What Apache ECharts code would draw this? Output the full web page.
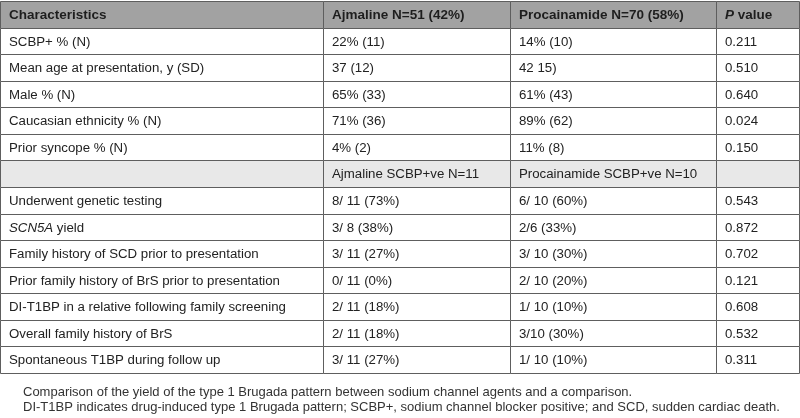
<!DOCTYPE html>
<html>
<head>
<meta charset="utf-8">
<script src="https://cdn.jsdelivr.net/npm/echarts@6/dist/echarts.min.js"></script>
<style>
html,body{margin:0;padding:0;background:#fff;}
#chart{width:800px;height:418px;}
</style>
</head>
<body>
<div id="chart"></div>
<script>
// ---- data ----
const headers = ['Characteristics', 'Ajmaline N=51 (42%)', 'Procainamide N=70 (58%)', 'P value'];
const characteristics = [
  'SCBP+ % (N)',
  'Mean age at presentation, y (SD)',
  'Male % (N)',
  'Caucasian ethnicity % (N)',
  'Prior syncope % (N)',
  '',
  'Underwent genetic testing',
  'SCN5A yield',
  'Family history of SCD prior to presentation',
  'Prior family history of BrS prior to presentation',
  'DI-T1BP in a relative following family screening',
  'Overall family history of BrS',
  'Spontaneous T1BP during follow up'
];
const ajmaline = [
  '22% (11)', '37 (12)', '65% (33)', '71% (36)', '4% (2)',
  'Ajmaline SCBP+ve N=11',
  '8/ 11 (73%)', '3/ 8 (38%)', '3/ 11 (27%)', '0/ 11 (0%)', '2/ 11 (18%)', '2/ 11 (18%)', '3/ 11 (27%)'
];
const procainamide = [
  '14% (10)', '42 15)', '61% (43)', '89% (62)', '11% (8)',
  'Procainamide SCBP+ve N=10',
  '6/ 10 (60%)', '2/6 (33%)', '3/ 10 (30%)', '2/ 10 (20%)', '1/ 10 (10%)', '3/10 (30%)', '1/ 10 (10%)'
];
const pValues = [
  '0.211', '0.510', '0.640', '0.024', '0.150',
  '',
  '0.543', '0.872', '0.702', '0.121', '0.608', '0.532', '0.311'
];
const subheaderRows = [5];
const italicTerms = ['SCN5A'];
const captionLines = [
  'Comparison of the yield of the type 1 Brugada pattern between sodium channel agents and a comparison.',
  'DI-T1BP indicates drug-induced type 1 Brugada pattern; SCBP+, sodium channel blocker positive; and SCD, sudden cardiac death.'
];

// ---- layout / style ----
const colWidths = [323, 186, 206, 83];
const edges = [0];
colWidths.forEach(w => edges.push(edges[edges.length - 1] + w));
const FONT = '"Liberation Sans", Arial, Helvetica, sans-serif';
const FS_HEAD = 13.5;
const FS_BODY = 13.25;

const columns = [characteristics, ajmaline, procainamide, pValues];
const cells = [];
headers.forEach((h, c) => cells.push({ col: c, row: 0, text: h, kind: 'header' }));
characteristics.forEach((_, i) => {
  columns.forEach((arr, c) => {
    cells.push({ col: c, row: i + 1, text: arr[i], kind: subheaderRows.includes(i) ? 'sub' : 'body' });
  });
});
const rowCats = ['h'].concat(characteristics.map((_, i) => 'r' + i));

function richText(cell) {
  let t = cell.text;
  if (cell.kind === 'header' && /^P value$/.test(t)) return '{hi|P}{h| value}';
  const style = cell.kind === 'header' ? 'h' : 'n';
  for (const term of italicTerms) {
    const idx = t.indexOf(term);
    if (idx >= 0) {
      const parts = [];
      if (idx > 0) parts.push('{' + style + '|' + t.slice(0, idx) + '}');
      parts.push('{' + style + 'i|' + term + '}');
      const rest = t.slice(idx + term.length);
      if (rest) parts.push('{' + style + '|' + rest + '}');
      return parts.join('');
    }
  }
  return t ? '{' + style + '|' + t + '}' : '';
}

const rich = {
  h: { fontFamily: FONT, fontSize: FS_HEAD, fontWeight: 'bold', fill: '#1e1e1e' },
  hi: { fontFamily: FONT, fontSize: FS_HEAD, fontWeight: 'bold', fontStyle: 'italic', fill: '#1e1e1e' },
  n: { fontFamily: FONT, fontSize: FS_BODY, fill: '#222' },
  ni: { fontFamily: FONT, fontSize: FS_BODY, fontStyle: 'italic', fill: '#222' }
};

const chart = echarts.init(document.getElementById('chart'), null, { renderer: 'canvas' });
chart.setOption({
  backgroundColor: '#ffffff',
  animation: false,
  title: {
    text: captionLines.join('\n'),
    left: 23,
    top: 384.5,
    padding: 0,
    textStyle: { fontFamily: FONT, fontSize: 13, fontWeight: 'normal', color: '#333', lineHeight: 15 }
  },
  grid: { left: 0, right: 1, top: 1, bottom: 45, containLabel: false },
  xAxis: {
    type: 'value', min: 0, max: edges[edges.length - 1],
    show: false
  },
  yAxis: {
    type: 'category', data: rowCats, inverse: true, show: false
  },
  series: [{
    type: 'custom',
    data: cells.map(c => [c.col, c.row]),
    renderItem: function (params, api) {
      const cell = cells[params.dataIndex];
      const r = api.value(1);
      const c = api.value(0);
      const p0 = api.coord([edges[c], r]);
      const p1 = api.coord([edges[c + 1], r]);
      const bh = api.size([0, 1])[1];
      const left = Math.round(p0[0]) + 0.5;
      const right = Math.round(p1[0]) + 0.5;
      const top = Math.round(p0[1] - bh / 2) + 0.5;
      const bottom = Math.round(p0[1] + bh / 2) + 0.5;
      const fill = cell.kind === 'header' ? '#a2a2a2' : (cell.kind === 'sub' ? '#e8e8e8' : '#ffffff');
      return {
        type: 'group',
        children: [
          {
            type: 'rect',
            shape: { x: left, y: top, width: right - left, height: bottom - top },
            style: { fill: fill, stroke: '#5e5e5e', lineWidth: 1 }
          },
          {
            type: 'text',
            x: left + 8.5,
            y: (top + bottom) / 2 + 0.5,
            style: {
              text: richText(cell),
              rich: rich,
              fontFamily: FONT,
              fontSize: FS_BODY,
              verticalAlign: 'middle',
              align: 'left'
            }
          }
        ]
      };
    }
  }]
});
</script>
</body>
</html>
